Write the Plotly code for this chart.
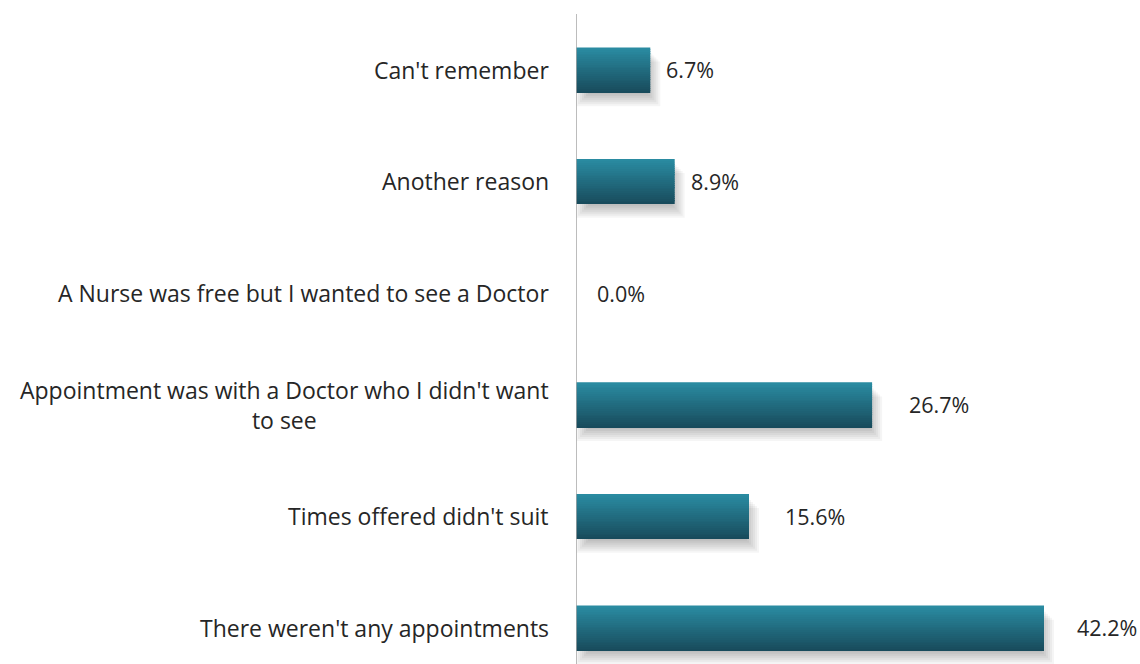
import plotly.graph_objects as go

# Survey responses, bottom to top
categories = [
    "There weren't any appointments",
    "Times offered didn't suit",
    "Appointment was with a Doctor who I didn't want<br>to see",
    "A Nurse was free but I wanted to see a Doctor",
    "Another reason",
    "Can't remember",
]
percent = [42.2, 15.6, 26.7, 0.0, 8.9, 6.7]
value_labels = ["42.2%", "15.6%", "26.7%", "0.0%", "8.9%", "6.7%"]

W, H = 1140, 664
ML, MT = 576, 14
X_MAX = (W - ML) / 11.09
Y_LO, Y_HI = -0.3226, 5.5
PX_X = X_MAX / (W - ML)            # data units per pixel, x
PX_Y = (Y_HI - Y_LO) / (H - MT)    # data units per pixel, y

BAR_W = 0.40
TOP_RGB = (42, 140, 163)
BOT_RGB = (24, 74, 90)
TEXT = "#262626"
FONT = "Open Sans"

pos = list(range(len(categories)))
fig = go.Figure()

# soft drop shadow under each bar (stacked translucent layers)
for k in range(7):
    inset = 2.0 * k
    fig.add_trace(go.Bar(
        orientation="h",
        y=pos,
        base=[inset * PX_X if v > 0 else 0 for v in percent],
        x=[max(v + (10 - 2 * inset) * PX_X, 0) if v > 0 else 0 for v in percent],
        width=BAR_W,
        offset=-BAR_W / 2 - (14 - inset) * PX_Y,
        marker=dict(color="rgba(0,0,0,0.04)", line=dict(width=0)),
        hoverinfo="skip",
        showlegend=False,
    ))

# vertical gradient bars built from thin slices
N = 24
for i in range(N):
    t = (i + 0.5) / N
    r, g, b = (round(BOT_RGB[c] + (TOP_RGB[c] - BOT_RGB[c]) * t) for c in range(3))
    fig.add_trace(go.Bar(
        orientation="h",
        y=pos,
        x=percent,
        width=BAR_W / N * 1.05,
        offset=-BAR_W / 2 + i * BAR_W / N,
        marker=dict(color=f"rgb({r},{g},{b})", line=dict(width=0)),
        hoverinfo="skip",
        showlegend=False,
    ))

annotations = []
label_pad = [31, 34, 35, 19, 14, 14]
for p, v, lab, pad in zip(pos, percent, value_labels, label_pad):
    annotations.append(dict(
        x=v, y=p, xref="x", yref="y", text=lab, showarrow=False,
        xanchor="left", yanchor="middle", xshift=pad,
        font=dict(family=FONT, size=21.5, color=TEXT),
    ))
for p, cat in zip(pos, categories):
    annotations.append(dict(
        x=0, y=p, xref="x", yref="y", text=cat, showarrow=False,
        xanchor="right", yanchor="middle", xshift=-25, align="center",
        font=dict(family=FONT, size=23, color=TEXT),
    ))

fig.update_layout(
    width=W, height=H,
    margin=dict(l=ML, r=0, t=MT, b=0, pad=0),
    paper_bgcolor="white", plot_bgcolor="white",
    barmode="overlay",
    showlegend=False,
    xaxis=dict(range=[0, X_MAX], visible=False, fixedrange=True),
    yaxis=dict(range=[Y_LO, Y_HI], showticklabels=False, showgrid=False,
               zeroline=False, ticks="", fixedrange=True),
    annotations=annotations,
    shapes=[dict(type="line", xref="x", yref="paper", x0=0, x1=0, y0=0, y1=1,
                 line=dict(color="#a6a6a6", width=1.5), layer="above")],
)

fig.write_html("out.html", config={"displayModeBar": False})
